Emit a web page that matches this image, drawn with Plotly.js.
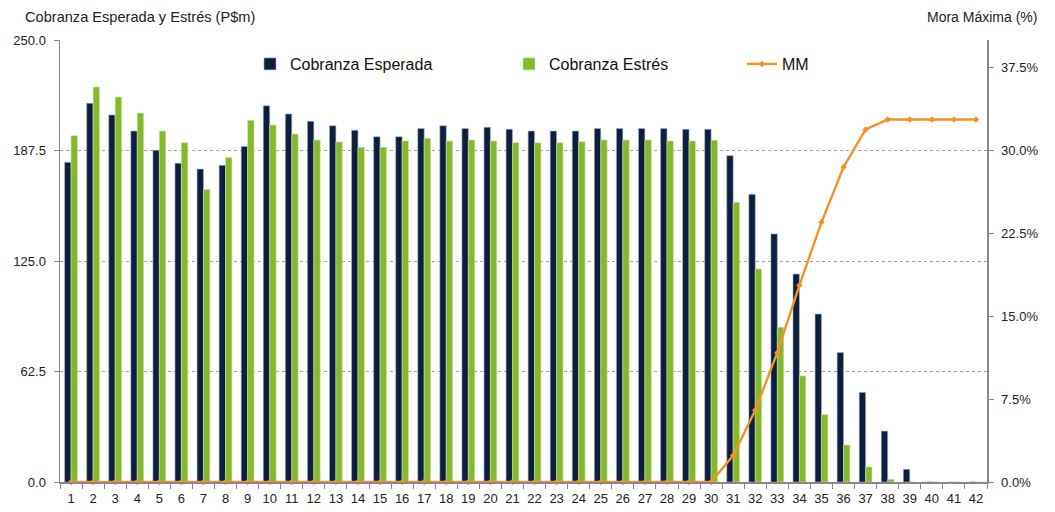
<!DOCTYPE html>
<html>
<head>
<meta charset="utf-8">
<script src="https://cdn.plot.ly/plotly-3.0.1.min.js"></script>
<style>html,body{margin:0;padding:0;background:#fff}#chart{width:1055px;height:512px}</style>
</head>
<body>
<div id="chart"></div>
<script>
const categories = ["1","2","3","4","5","6","7","8","9","10","11","12","13","14","15","16","17","18","19","20","21","22","23","24","25","26","27","28","29","30","31","32","33","34","35","36","37","38","39","40","41","42"];
const cobranzaEsperada = [180.8,214.2,207.6,198.5,187.6,180.3,177.0,179.1,189.8,212.8,208.1,204.0,201.5,198.9,195.3,195.3,200.0,201.5,200.0,200.6,199.5,198.5,198.5,198.5,200.0,200.0,200.0,200.0,199.5,199.5,184.6,162.7,140.3,117.6,95.0,73.2,50.7,28.8,7.2,0,0,0];
const cobranzaEstres = [195.9,223.4,217.8,208.7,198.5,191.9,165.5,183.6,204.6,201.9,196.8,193.4,192.3,189.3,189.3,192.9,194.4,192.9,193.4,192.9,191.9,191.9,191.9,192.5,193.4,193.4,193.4,192.9,192.9,193.3,158.2,120.5,87.5,60.0,38.1,20.9,8.5,1.5,0,0,0,0];
const moraMaxima = [0,0,0,0,0,0,0,0,0,0,0,0,0,0,0,0,0,0,0,0,0,0,0,0,0,0,0,0,0,0,0.024,0.065,0.117,0.178,0.235,0.285,0.319,0.328,0.328,0.328,0.328,0.328];
const leftTicks = [0,62.5,125,187.5,250];
const rightTicks = [0,0.075,0.15,0.225,0.30,0.375];

const fam = '"Liberation Sans", Arial, sans-serif';
const tickFont = {family:fam, size:13, color:'#222'};

const traces = [
  {type:'bar', name:'Cobranza Esperada', x:categories, y:cobranzaEsperada,
   marker:{color:'#0E1E3E', line:{color:'#A9B2C3', width:0.6}}, legend:'legend'},
  {type:'bar', name:'Cobranza Estrés', x:categories, y:cobranzaEstres,
   marker:{color:'#86B82E', line:{color:'#CFE3A6', width:0.6}}, legend:'legend2'},
  {type:'scatter', mode:'lines+markers', name:'MM', x:categories, y:moraMaxima, yaxis:'y2',
   line:{color:'#F39325', width:2.4}, marker:{symbol:'diamond', size:5, color:'#F39325'}, legend:'legend3', cliponaxis:false}
];

const legBase = {orientation:'h', xref:'paper', yref:'paper', yanchor:'middle', xanchor:'left',
  font:{family:fam, size:16, color:'#111'}, bgcolor:'rgba(0,0,0,0)', itemwidth:30};

const layout = {
  width:1055, height:512,
  margin:{l:60, r:68, t:40, b:30},
  paper_bgcolor:'#fff', plot_bgcolor:'#fff',
  font:{family:fam, size:13, color:'#222'},
  barmode:'group', bargap:0.42, bargroupgap:0,
  showlegend:true,
  legend:Object.assign({}, legBase, {x:(250-60)/927, y:(482-64)/442}),
  legend2:Object.assign({}, legBase, {x:(509-60)/927, y:(482-64)/442}),
  legend3:Object.assign({}, legBase, {x:(742-60)/927, y:(482-64)/442}),
  xaxis:{type:'category', range:[-0.5, 41.5], autorange:false, tickmode:'array', tickvals:categories, ticktext:categories,
    tickangle:0, tickson:'boundaries', ticks:'outside', ticklen:5, tickcolor:'#888', ticklabelstandoff:4,
    showline:true, linecolor:'#888', linewidth:1.5, showgrid:false, zeroline:false, tickfont:tickFont},
  yaxis:{range:[0,250], tickmode:'array', tickvals:leftTicks, ticktext:leftTicks.map(v=>v.toFixed(1)),
    ticks:'outside', ticklen:5, tickcolor:'#888', ticklabelstandoff:5, showline:true, linecolor:'#888', linewidth:1.5,
    showgrid:true, gridcolor:'#A0A0A0', griddash:'dot', gridwidth:1, zeroline:false, tickfont:tickFont},
  yaxis2:{overlaying:'y', side:'right', range:[0,0.4], tickmode:'array', tickvals:rightTicks,
    ticktext:rightTicks.map(v=>(v*100).toFixed(1)+'%'),
    ticks:'outside', ticklen:5, tickcolor:'#888', ticklabelstandoff:5, showline:true, linecolor:'#888', linewidth:1.5,
    showgrid:false, zeroline:false, tickfont:tickFont},
  annotations:[
    {text:'Cobranza Esperada y Estrés (P$m)', xref:'paper', yref:'paper', x:(257-60)/927, y:1+(40-17)/442,
     xanchor:'right', yanchor:'middle', showarrow:false, font:{family:fam, size:14.6, color:'#222'}},
    {text:'Mora Máxima (%)', xref:'paper', yref:'paper', x:1+(1039-987)/927, y:1+(40-17)/442,
     xanchor:'right', yanchor:'middle', showarrow:false, font:{family:fam, size:14, color:'#222'}}
  ]
};

Plotly.newPlot('chart', traces, layout, {displayModeBar:false, staticPlot:true});
</script>
</body>
</html>
